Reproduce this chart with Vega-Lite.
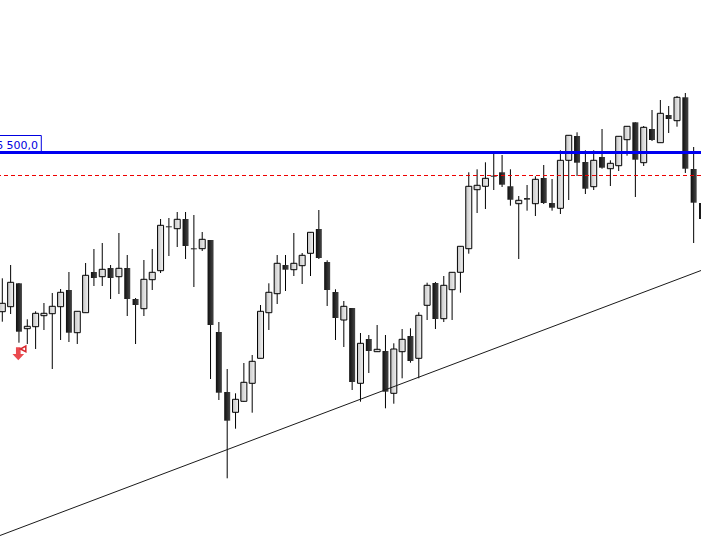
{
  "$schema": "https://vega.github.io/schema/vega-lite/v6.json",
  "width": 701,
  "height": 545,
  "padding": 0,
  "autosize": {"type": "none"},
  "background": "#ffffff",
  "config": {"view": {"stroke": null}},
  "datasets": {
    "candles": [
      {"i":0,"open":6340.8,"high":6374.2,"low":6330.8,"close":6349.2},
      {"i":1,"open":6345.8,"high":6387.5,"low":6338.5,"close":6370.2},
      {"i":2,"open":6369.2,"high":6369.5,"low":6309.8,"close":6320.8},
      {"i":3,"open":6323.8,"high":6333.2,"low":6308.5,"close":6326.2},
      {"i":4,"open":6325.8,"high":6341.2,"low":6303.5,"close":6339.2},
      {"i":5,"open":6336.8,"high":6349.5,"low":6322.5,"close":6339.2},
      {"i":6,"open":6338.8,"high":6359.5,"low":6283.5,"close":6346.2},
      {"i":7,"open":6345.8,"high":6363.5,"low":6312.5,"close":6360.2},
      {"i":8,"open":6362.5,"high":6380.5,"low":6310.5,"close":6319.8},
      {"i":9,"open":6319.8,"high":6341.2,"low":6308.5,"close":6341.2},
      {"i":10,"open":6339.8,"high":6389.5,"low":6339.8,"close":6377.2},
      {"i":11,"open":6380.5,"high":6403.5,"low":6366.5,"close":6374.5},
      {"i":12,"open":6375.8,"high":6409.5,"low":6366.5,"close":6383.2},
      {"i":13,"open":6384.5,"high":6387.5,"low":6353.5,"close":6374.5},
      {"i":14,"open":6375.8,"high":6419.5,"low":6358.5,"close":6384.2},
      {"i":15,"open":6384.5,"high":6397.5,"low":6336.5,"close":6353.5},
      {"i":16,"open":6353.5,"high":6354.5,"low":6308.5,"close":6347.5},
      {"i":17,"open":6343.8,"high":6392.5,"low":6336.5,"close":6373.2},
      {"i":18,"open":6372.8,"high":6403.5,"low":6362.5,"close":6380.2},
      {"i":19,"open":6381.8,"high":6433.5,"low":6379.5,"close":6427.2},
      {"i":20,"open":6426.2,"high":6434.5,"low":6396.5,"close":6425.2},
      {"i":21,"open":6423.8,"high":6440.5,"low":6405.5,"close":6433.2},
      {"i":22,"open":6433.5,"high":6440.5,"low":6393.5,"close":6406.5},
      {"i":23,"open":6404.2,"high":6437.5,"low":6365.5,"close":6403.2},
      {"i":24,"open":6403.8,"high":6420.5,"low":6401.5,"close":6413.2},
      {"i":25,"open":6412.5,"high":6412.5,"low":6273.5,"close":6327.5},
      {"i":26,"open":6320.5,"high":6330.5,"low":6252.5,"close":6259.8},
      {"i":27,"open":6260.5,"high":6283.5,"low":6174.2,"close":6231.8},
      {"i":28,"open":6240.2,"high":6259.2,"low":6223.8,"close":6253.2},
      {"i":29,"open":6251.2,"high":6289.5,"low":6250.8,"close":6270.2},
      {"i":30,"open":6269.2,"high":6297.5,"low":6239.8,"close":6291.2},
      {"i":31,"open":6294.2,"high":6347.5,"low":6294.2,"close":6341.2},
      {"i":32,"open":6339.8,"high":6369.2,"low":6322.5,"close":6360.2},
      {"i":33,"open":6358.8,"high":6397.5,"low":6348.5,"close":6389.2},
      {"i":34,"open":6387.5,"high":6397.5,"low":6361.5,"close":6382.8},
      {"i":35,"open":6382.8,"high":6419.5,"low":6376.5,"close":6389.2},
      {"i":36,"open":6386.8,"high":6399.5,"low":6368.5,"close":6397.2},
      {"i":37,"open":6399.2,"high":6420.5,"low":6376.5,"close":6420.2},
      {"i":38,"open":6423.5,"high":6442.5,"low":6393.5,"close":6394.5},
      {"i":39,"open":6390.5,"high":6392.2,"low":6346.5,"close":6362.5},
      {"i":40,"open":6360.5,"high":6363.2,"low":6312.5,"close":6334.5},
      {"i":41,"open":6332.5,"high":6351.5,"low":6305.5,"close":6346.2},
      {"i":42,"open":6344.5,"high":6344.5,"low":6262.5,"close":6270.5},
      {"i":43,"open":6269.2,"high":6319.5,"low":6250.8,"close":6309.2},
      {"i":44,"open":6313.5,"high":6317.5,"low":6279.5,"close":6301.5},
      {"i":45,"open":6300.8,"high":6327.5,"low":6300.5,"close":6303.2},
      {"i":46,"open":6301.5,"high":6317.5,"low":6244.2,"close":6260.8},
      {"i":47,"open":6259.2,"high":6309.2,"low":6248.8,"close":6303.5},
      {"i":48,"open":6300.8,"high":6323.5,"low":6274.2,"close":6313.2},
      {"i":49,"open":6316.5,"high":6324.2,"low":6289.8,"close":6291.5},
      {"i":50,"open":6294.2,"high":6340.2,"low":6274.2,"close":6337.2},
      {"i":51,"open":6347.2,"high":6369.8,"low":6332.5,"close":6367.2},
      {"i":52,"open":6369.5,"high":6370.5,"low":6323.5,"close":6333.5},
      {"i":53,"open":6333.8,"high":6376.5,"low":6330.5,"close":6367.2},
      {"i":54,"open":6362.8,"high":6380.2,"low":6332.5,"close":6380.2},
      {"i":55,"open":6380.2,"high":6406.5,"low":6359.8,"close":6406.2},
      {"i":56,"open":6403.8,"high":6480.2,"low":6398.8,"close":6466.2},
      {"i":57,"open":6462.8,"high":6483.2,"low":6439.5,"close":6467.2},
      {"i":58,"open":6466.2,"high":6490.2,"low":6443.5,"close":6474.2},
      {"i":59,"open":6476.8,"high":6499.2,"low":6462.5,"close":6475.8},
      {"i":60,"open":6480.2,"high":6497.5,"low":6465.5,"close":6467.8},
      {"i":61,"open":6466.2,"high":6483.2,"low":6446.8,"close":6452.8},
      {"i":62,"open":6448.8,"high":6456.5,"low":6393.5,"close":6452.2},
      {"i":63,"open":6454.5,"high":6467.5,"low":6441.8,"close":6452.8},
      {"i":64,"open":6448.8,"high":6476.2,"low":6436.5,"close":6473.2},
      {"i":65,"open":6474.5,"high":6487.5,"low":6448.5,"close":6449.5},
      {"i":66,"open":6449.5,"high":6473.5,"low":6441.8,"close":6444.8},
      {"i":67,"open":6444.2,"high":6502.2,"low":6438.5,"close":6492.2},
      {"i":68,"open":6492.2,"high":6517.2,"low":6452.5,"close":6517.2},
      {"i":69,"open":6516.5,"high":6520.2,"low":6476.5,"close":6489.8},
      {"i":70,"open":6490.5,"high":6502.2,"low":6458.5,"close":6463.8},
      {"i":71,"open":6465.8,"high":6502.2,"low":6462.5,"close":6492.2},
      {"i":72,"open":6495.5,"high":6523.5,"low":6483.8,"close":6484.8},
      {"i":73,"open":6483.8,"high":6492.2,"low":6466.5,"close":6489.2},
      {"i":74,"open":6486.8,"high":6516.2,"low":6481.5,"close":6516.2},
      {"i":75,"open":6512.8,"high":6526.2,"low":6496.8,"close":6526.2},
      {"i":76,"open":6530.2,"high":6530.2,"low":6455.5,"close":6492.8},
      {"i":77,"open":6489.8,"high":6526.5,"low":6486.5,"close":6525.2},
      {"i":78,"open":6523.5,"high":6542.5,"low":6511.5,"close":6512.5},
      {"i":79,"open":6509.8,"high":6552.5,"low":6509.8,"close":6539.2},
      {"i":80,"open":6537.5,"high":6546.5,"low":6519.5,"close":6533.5},
      {"i":81,"open":6531.8,"high":6556.5,"low":6525.8,"close":6555.2},
      {"i":82,"open":6555.2,"high":6559.5,"low":6479.5,"close":6483.8},
      {"i":83,"open":6483.5,"high":6505.5,"low":6409.5,"close":6449.8},
      {"i":84,"open":6449.5,"high":6449.5,"low":6433.5,"close":6433.5}
    ],
    "trend": [
      {"i":-0.276,"price":6117},
      {"i":83.88,"price":6382}
    ],
    "levels": [{"resistance":6500,"pending":6477}],
    "priceTag": [{"i0":-2,"i1":4.68,"top":6517,"bottom":6500.5,"textI":4.29,"textPrice":6503.3,"label":"6 500,0"}],
    "signal": [{"i":1.92,"price":6298.8,"flagI":2.5,"flagPrice":6303.5}]
  },
  "encoding": {
    "x": {"field": "i", "type": "quantitative", "scale": {"domain": [-0.276, 83.88], "nice": false, "zero": false, "padding": 0}, "axis": null}
  },
  "layer": [
    {
      "data": {"name": "candles"},
      "mark": {"type": "rule", "color": "#000000", "strokeWidth": 1, "clip": true},
      "encoding": {
        "y": {"field": "high", "type": "quantitative", "scale": {"domain": [6107.5, 6652.5], "nice": false, "zero": false}, "axis": null},
        "y2": {"field": "low"}
      }
    },
    {
      "data": {"name": "candles"},
      "transform": [{"filter": "datum.close < datum.open"}],
      "mark": {
        "type": "bar",
        "orient": "vertical",
        "size": 6,
        "clip": true,
        "fill": {"gradient": "linear", "x1": 0, "y1": 0, "x2": 1, "y2": 0, "stops": [{"offset": 0, "color": "#0f0f0f"}, {"offset": 1, "color": "#464646"}]}
      },
      "encoding": {
        "y": {"field": "open", "type": "quantitative"},
        "y2": {"field": "close"}
      }
    },
    {
      "data": {"name": "candles"},
      "transform": [{"filter": "datum.close >= datum.open"}],
      "mark": {
        "type": "bar",
        "orient": "vertical",
        "size": 6,
        "clip": true,
        "stroke": "#000000",
        "strokeWidth": 1,
        "fill": {"gradient": "linear", "x1": 0, "y1": 0, "x2": 1, "y2": 0, "stops": [{"offset": 0, "color": "#c6c6c6"}, {"offset": 1, "color": "#f2f2f2"}]}
      },
      "encoding": {
        "y": {"field": "open", "type": "quantitative"},
        "y2": {"field": "close"}
      }
    },
    {
      "data": {"name": "trend"},
      "mark": {"type": "line", "color": "#1a1a1a", "strokeWidth": 1, "clip": true},
      "encoding": {"y": {"field": "price", "type": "quantitative"}}
    },
    {
      "data": {"name": "levels"},
      "mark": {"type": "rule", "color": "#ee0000", "strokeWidth": 1, "strokeDash": [4, 3]},
      "encoding": {"x": null, "y": {"field": "pending", "type": "quantitative"}}
    },
    {
      "data": {"name": "priceTag"},
      "mark": {"type": "rect", "fill": "#ffffff", "stroke": "#0000e0", "strokeWidth": 1, "clip": true},
      "encoding": {
        "x": {"field": "i0", "type": "quantitative"},
        "x2": {"field": "i1"},
        "y": {"field": "top", "type": "quantitative"},
        "y2": {"field": "bottom"}
      }
    },
    {
      "data": {"name": "levels"},
      "mark": {"type": "rule", "color": "#0000f0", "strokeWidth": 3},
      "encoding": {"x": null, "y": {"field": "resistance", "type": "quantitative"}}
    },
    {
      "data": {"name": "priceTag"},
      "mark": {"type": "text", "align": "right", "baseline": "alphabetic", "font": "DejaVu Sans", "fontSize": 11, "color": "#0000e0", "clip": true},
      "encoding": {
        "x": {"field": "textI", "type": "quantitative"},
        "y": {"field": "textPrice", "type": "quantitative"},
        "text": {"field": "label"}
      }
    },
    {
      "data": {"name": "signal"},
      "mark": {"type": "point", "filled": true, "color": "#ea4a4f", "opacity": 1, "size": 169, "shape": "M-0.36,-1 L0.36,-1 L0.36,0.05 L0.9,0.05 L0,1 L-0.9,0.05 L-0.36,0.05 Z"},
      "encoding": {"y": {"field": "price", "type": "quantitative"}}
    },
    {
      "data": {"name": "signal"},
      "mark": {"type": "point", "filled": false, "stroke": "#d8262c", "strokeWidth": 1.5, "opacity": 1, "size": 36, "shape": "M0.9,-1 L0.9,0.9 L-0.9,0 Z"},
      "encoding": {
        "x": {"field": "flagI", "type": "quantitative"},
        "y": {"field": "flagPrice", "type": "quantitative"}
      }
    }
  ]
}
